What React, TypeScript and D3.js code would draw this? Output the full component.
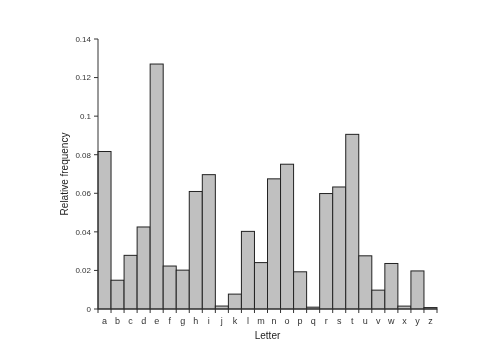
import React from "react";
import * as d3 from "d3";

const letters = ["a","b","c","d","e","f","g","h","i","j","k","l","m","n","o","p","q","r","s","t","u","v","w","x","y","z"];
const freqs = [0.08167,0.01492,0.02782,0.04253,0.12702,0.02228,0.02015,0.06094,0.06966,0.00153,0.00772,0.04025,0.02406,0.06749,0.07507,0.01929,0.00095,0.05987,0.06327,0.09056,0.02758,0.00978,0.0236,0.0015,0.01974,0.00074];
const yTicks = [0,0.02,0.04,0.06,0.08,0.1,0.12,0.14];
const yTickLabels = ["0","0.02","0.04","0.06","0.08","0.1","0.12","0.14"];

export default function App() {
  const W = 490, H = 356;
  const x0 = 98, x1 = 437, yTop = 39, yBot = 309;
  const x = d3.scaleBand<string>().domain(letters).range([x0, x1]).paddingInner(0).paddingOuter(0);
  const y = d3.scaleLinear().domain([0, 0.14]).range([yBot, yTop]);
  const font = "'Liberation Sans', Arial, sans-serif";
  return (
    <svg width={W} height={H} style={{ position: "absolute", left: 0, top: 0, background: "#fff", willChange: "transform" }}>
      {letters.map((l, i) => (
        <rect key={l} x={x(l)!} y={y(freqs[i])} width={x.bandwidth()} height={yBot - y(freqs[i])}
          fill="#c0c0c0" stroke="#222" strokeWidth={1} />
      ))}
      <line x1={x0} x2={x0} y1={yTop} y2={yBot} stroke="#333" strokeWidth={1} />
      <line x1={x0} x2={x1} y1={yBot} y2={yBot} stroke="#333" strokeWidth={1} />
      {yTicks.map((t, i) => (
        <g key={t}>
          <line x1={x0 - 4} x2={x0} y1={y(t)} y2={y(t)} stroke="#333" />
          <text x={x0 - 7} y={y(t)} dy="0.35em" textAnchor="end" fontFamily={font} fontSize={8} fill="#333">{yTickLabels[i]}</text>
        </g>
      ))}
      {letters.map((l) => (
        <line key={"t" + l} x1={x(l)!} x2={x(l)!} y1={yBot} y2={yBot + 4} stroke="#333" />
      ))}
      <line x1={x1} x2={x1} y1={yBot} y2={yBot + 4} stroke="#333" />
      {letters.map((l) => (
        <text key={"l" + l} x={x(l)! + x.bandwidth() / 2} y={yBot + 15} textAnchor="middle" fontFamily={font} fontSize={9} fill="#333">{l}</text>
      ))}
      <text x={(x0 + x1) / 2} y={339} textAnchor="middle" fontFamily={font} fontSize={10} fill="#222">Letter</text>
      <text transform={`translate(68,${(yTop + yBot) / 2}) rotate(-90)`} textAnchor="middle" fontFamily={font} fontSize={10} fill="#222">Relative frequency</text>
    </svg>
  );
}
